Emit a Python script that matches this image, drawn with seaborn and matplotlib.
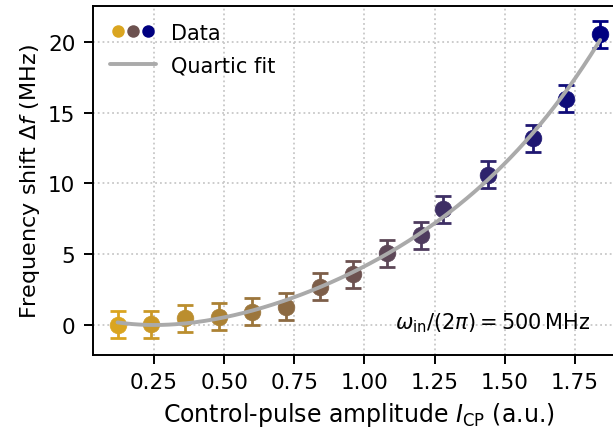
import matplotlib
matplotlib.use('Agg')
import matplotlib.pyplot as plt
from matplotlib.colors import LinearSegmentedColormap
from matplotlib.lines import Line2D
from matplotlib.legend_handler import HandlerTuple
import seaborn as sns
import numpy as np
import pandas as pd

amplitude = [0.12, 0.24, 0.36, 0.48, 0.60, 0.72, 0.84, 0.96, 1.08, 1.20,
             1.28, 1.44, 1.60, 1.72, 1.84]
shift = [0.0, 0.02, 0.45, 0.57, 0.92, 1.27, 2.70, 3.58, 5.04, 6.34,
         8.18, 10.60, 13.20, 16.00, 20.55]
shift_err = [0.95] * len(amplitude)

df = pd.DataFrame({'amp': amplitude, 'shift': shift, 'err': shift_err})

# quartic fit through the data
coef = np.polyfit(df['amp'], df['shift'], 4)
fit = pd.DataFrame({'amp': np.linspace(df['amp'].min(), df['amp'].max(), 200)})
fit['shift'] = np.polyval(coef, fit['amp'])

sns.set_theme(style="ticks")
plt.rcParams['font.family'] = ['DejaVu Sans']
plt.rcParams['mathtext.fontset'] = 'dejavusans'
plt.rcParams['text.color'] = 'black'
plt.rcParams['axes.labelcolor'] = 'black'
plt.rcParams['xtick.color'] = 'black'
plt.rcParams['ytick.color'] = 'black'

cmap = LinearSegmentedColormap.from_list('gold_navy', ['goldenrod', 'navy'])
colors = [cmap(i / (len(df) - 1)) for i in range(len(df))]

fig = plt.figure(figsize=(6.13, 4.31), dpi=100)
ax = fig.add_axes([0.1524, 0.174, 0.866, 0.8097])

for (_, r), c in zip(df.iterrows(), colors):
    eb = ax.errorbar(r['amp'], r['shift'], yerr=r['err'], fmt='o', color=c,
                     ms=12, mec=c, mew=0.5, elinewidth=2, capsize=6,
                     capthick=2, zorder=3)
    for cap in eb[1]:
        cap.set_markeredgewidth(2)

sns.lineplot(data=fit, x='amp', y='shift', color='#aaaaaa', lw=2.8, ax=ax, zorder=4)

ax.set_xlim(0.034, 1.926)
ax.set_ylim(-2.14, 22.54)
ax.set_xticks([0.25, 0.50, 0.75, 1.00, 1.25, 1.50, 1.75])
ax.set_yticks([0, 5, 10, 15, 20])
ax.grid(True, ls=':', lw=1.3, color='#c8c8c8')
ax.set_axisbelow(True)
for s in ax.spines.values():
    s.set_linewidth(1.4)
    s.set_color('black')
ax.tick_params(labelsize=15.5, length=6.5, width=1.4, color='black')
ax.tick_params(axis='y', pad=6.5)
ax.tick_params(axis='x', pad=5.5)

ax.set_xlabel(r'Control-pulse amplitude $I_\mathrm{CP}$ (a.u.)', fontsize=17, labelpad=6)
ax.set_ylabel(r'Frequency shift $\Delta f$ (MHz)', fontsize=16, labelpad=4)

ax.text(0.936, 0.095, r'$\omega_\mathrm{in}/(2\pi) = 500\,\mathrm{MHz}$',
        transform=ax.transAxes, ha='right', va='center', fontsize=15)

dots = tuple(Line2D([], [], ls='none', marker='o', ms=9, mew=0, color=cmap(t))
             for t in (0.0, 0.5, 1.0))
fit_handle = Line2D([], [], color='#aaaaaa', lw=2.8)
ax.legend([dots, fit_handle], ['Data', 'Quartic fit'],
          handler_map={tuple: HandlerTuple(ndivide=None, pad=0)},
          loc='upper left', frameon=False, fontsize=15, handlelength=2.2,
          handletextpad=0.7, borderaxespad=0.4, labelspacing=0.6)

fig.savefig('out.png', dpi=100)
